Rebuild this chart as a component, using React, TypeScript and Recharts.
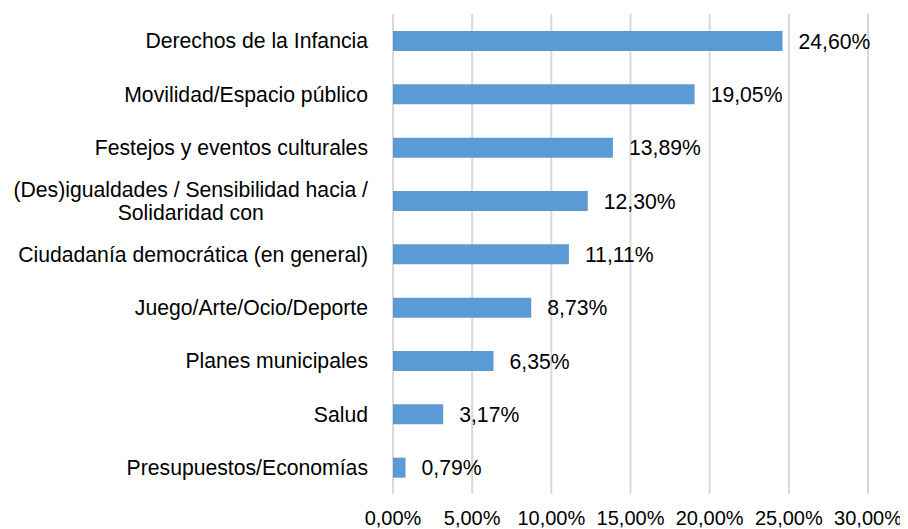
import { BarChart, Bar, XAxis, YAxis, CartesianGrid, LabelList } from 'recharts';

const categories = [
  'Derechos de la Infancia',
  'Movilidad/Espacio público',
  'Festejos y eventos culturales',
  '(Des)igualdades / Sensibilidad hacia / Solidaridad con',
  'Ciudadanía democrática (en general)',
  'Juego/Arte/Ocio/Deporte',
  'Planes municipales',
  'Salud',
  'Presupuestos/Economías'
];

const percentages = [24.6, 19.05, 13.89, 12.3, 11.11, 8.73, 6.35, 3.17, 0.79];

const xTicks = [0, 5, 10, 15, 20, 25, 30];

const data = categories.map((name, i) => ({ name, value: percentages[i] }));

const FONT = '"Liberation Sans", Arial, sans-serif';
const TICK_SIZE = 20;
const LABEL_SIZE = 21.2;

const fmt = (v: number) => v.toFixed(2).replace('.', ',') + '%';

let ctx: CanvasRenderingContext2D | null = null;
function measure(text: string) {
  if (!ctx) {
    const c = document.createElement('canvas');
    ctx = c.getContext('2d');
  }
  if (!ctx) return text.length * LABEL_SIZE * 0.5;
  ctx.font = `${LABEL_SIZE}px ${FONT}`;
  return ctx.measureText(text).width;
}

function wrap(text: string, maxWidth: number) {
  const words = text.split(' ');
  const lines: string[] = [];
  let cur = '';
  words.forEach((w) => {
    const next = cur ? cur + ' ' + w : w;
    if (cur && measure(next) > maxWidth) {
      lines.push(cur);
      cur = w;
    } else {
      cur = next;
    }
  });
  if (cur) lines.push(cur);
  return lines;
}

function CategoryTick(props: any) {
  const { x, y, payload } = props;
  const lines = wrap(payload.value, 372);
  if (lines.length === 1) {
    return (
      <text x={x} y={y} textAnchor="end" dominantBaseline="central" fontFamily={FONT} fontSize={LABEL_SIZE} fill="#000">
        {lines[0]}
      </text>
    );
  }
  // multi-line labels are centred on each other, block right-aligned
  const widest = Math.max(...lines.map(measure));
  const cx = x - widest / 2;
  const lh = 23;
  return (
    <text x={cx} y={y} textAnchor="middle" dominantBaseline="central" fontFamily={FONT} fontSize={LABEL_SIZE} fill="#000">
      {lines.map((l, i) => (
        <tspan key={i} x={cx} y={y + (i - (lines.length - 1) / 2) * lh}>
          {l}
        </tspan>
      ))}
    </text>
  );
}

export default function App() {
  return (
    <div style={{ margin: '-8px 0 0 -8px', width: 908, height: 529 }}>
      <BarChart
        width={908}
        height={529}
        data={data}
        layout="vertical"
        margin={{ top: 14, right: 40, bottom: 0, left: 0 }}
        style={{ overflow: 'visible' }}
      >
        <CartesianGrid horizontal={false} vertical={true} stroke="#d9d9d9" strokeWidth={2} />
        <XAxis
          type="number"
          domain={[0, 30]}
          ticks={xTicks}
          tickFormatter={fmt}
          axisLine={false}
          tickLine={false}
          tickSize={0}
          tickMargin={17}
          height={35}
          interval={0}
          tick={{ fontFamily: FONT, fontSize: TICK_SIZE, fill: '#000' }}
        />
        <YAxis
          type="category"
          dataKey="name"
          width={393}
          axisLine={false}
          tickLine={false}
          tickSize={0}
          tickMargin={25}
          interval={0}
          tick={<CategoryTick />}
        />
        <Bar dataKey="value" fill="#5b9bd5" barSize={20} isAnimationActive={false}>
          <LabelList
            dataKey="value"
            position="right"
            offset={16}
            formatter={(v: any) => fmt(Number(v))}
            style={{ fontFamily: FONT, fontSize: LABEL_SIZE, fill: '#000' }}
          />
        </Bar>
      </BarChart>
    </div>
  );
}
